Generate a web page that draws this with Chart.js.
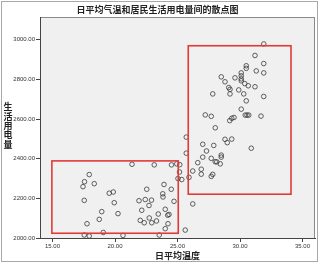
<!DOCTYPE html>
<html>
<head>
<meta charset="utf-8">
<script src="https://cdn.jsdelivr.net/npm/chart.js@4"></script>
<style>
  html, body { margin: 0; padding: 0; background: #fff; }
  #wrap { width: 320px; height: 265px; }
</style>
</head>
<body>
<div id="wrap"><canvas id="chart" width="320" height="265"></canvas></div>
<script>
// daily mean temperature (x) and residential electricity use (y)
const temps = [
  17.94, 17.56, 18.34, 17.44, 17.54, 17.76, 18.94, 18.74, 19.06, 17.54,
  17.94, 19.54, 19.86, 19.94, 20.24, 20.64, 21.36, 23.14, 24.52, 24.94,
  25.18, 25.16, 25.04, 25.34, 23.92, 22.54, 24.50, 23.82, 23.84, 21.92,
  22.42, 22.92, 24.72, 22.72, 22.14, 24.02, 23.46, 24.32, 24.22, 22.74,
  22.02, 22.34, 22.94, 23.32, 24.24, 24.02, 23.54, 25.62,
  31.90, 31.20, 31.90, 30.50, 30.50, 31.30, 31.90, 30.10, 30.10, 30.10,
  30.10, 28.50, 29.60, 28.80, 30.38, 30.66, 31.20, 29.10, 29.20, 29.20,
  29.90, 30.30, 27.82, 31.90, 30.50, 30.10, 27.22, 27.70, 30.42, 30.56,
  30.70, 31.68, 29.52, 29.34, 29.18, 28.02, 25.70, 28.80, 28.98, 29.34,
  27.02, 27.90, 30.90, 27.32, 25.70, 28.50, 28.50, 27.02, 27.70, 28.02,
  28.14, 28.42, 26.62, 26.22, 26.90, 26.90, 27.82, 27.70, 25.92, 26.22
];
const power = [
  2320, 2284, 2274, 2259, 2190, 2072, 2133, 2094, 2028, 2015,
  2010, 2226, 2232, 2178, 2123, 2013, 2372, 2369, 2369, 2374,
  2370, 2333, 2300, 2295, 2270, 2246, 2246, 2223, 2207, 2188,
  2194, 2191, 2185, 2164, 2140, 2145, 2121, 2119, 2115, 2101,
  2089, 2077, 2077, 2086, 2072, 2047, 2015, 2040,
  2979, 2921, 2880, 2869, 2856, 2843, 2833, 2833, 2818, 2803,
  2793, 2813, 2808, 2788, 2779, 2768, 2763, 2759, 2750, 2727,
  2747, 2727, 2727, 2714, 2692, 2650, 2621, 2614, 2620, 2620,
  2620, 2615, 2608, 2604, 2592, 2556, 2509, 2498, 2481, 2499,
  2473, 2467, 2453, 2439, 2428, 2418, 2408, 2408, 2402, 2385,
  2384, 2374, 2380, 2338, 2347, 2322, 2321, 2311, 2306, 2172
];

const xTicks = [15, 20, 25, 30, 35];
const yTicks = [2000, 2200, 2400, 2600, 2800, 3000];

// highlighted regions, in data units
const boxXFrom = [14.95, 25.86];
const boxXTo   = [25.06, 34.08];
const boxYFrom = [2024, 2221];
const boxYTo   = [2389, 2970];

const titleText = '日平均气温和居民生活用电量间的散点图';
const xTitle = '日平均温度';
const yTitle = '生活用电量';

const cjk = '"Noto Sans CJK SC", sans-serif';

const points = temps.map((t, i) => ({ x: t, y: power[i] }));

// frame, plot background, plot border
const framePlugin = {
  id: 'frame',
  beforeDraw(chart) {
    const ctx = chart.ctx;
    const a = chart.chartArea;
    ctx.save();
    ctx.strokeStyle = '#a8a8a8';
    ctx.lineWidth = 1;
    ctx.strokeRect(1.5, 1.5, 316, 260);
    ctx.fillStyle = '#f0f0f0';
    ctx.fillRect(a.left, a.top, a.right - a.left, a.bottom - a.top);
    ctx.strokeStyle = '#8a8a8a';
    ctx.strokeRect(a.left + 0.5, a.top + 0.5, a.right - a.left - 1, a.bottom - a.top);
    ctx.restore();
  },
  afterDraw(chart) {
    // vertical y title, one upright character per line
    const ctx = chart.ctx;
    const a = chart.chartArea;
    const chars = Array.from(yTitle);
    const step = 9.3;
    const mid = (a.top + a.bottom) / 2 - 2;
    ctx.save();
    ctx.font = 'bold 9px ' + cjk;
    ctx.fillStyle = '#222';
    ctx.textAlign = 'center';
    ctx.textBaseline = 'middle';
    chars.forEach((c, i) => {
      ctx.fillText(c, 8, mid + (i - (chars.length - 1) / 2) * step);
    });
    ctx.restore();
  }
};

const boxPlugin = {
  id: 'boxes',
  afterDatasetsDraw(chart) {
    const ctx = chart.ctx;
    const xs = chart.scales.x;
    const ys = chart.scales.y;
    ctx.save();
    ctx.strokeStyle = '#e23a3a';
    ctx.lineWidth = 1.6;
    for (let i = 0; i < boxXFrom.length; i++) {
      const x1 = xs.getPixelForValue(boxXFrom[i]);
      const x2 = xs.getPixelForValue(boxXTo[i]);
      const y1 = ys.getPixelForValue(boxYTo[i]);
      const y2 = ys.getPixelForValue(boxYFrom[i]);
      ctx.strokeRect(x1, y1, x2 - x1, y2 - y1);
    }
    ctx.restore();
  }
};

new Chart('chart', {
  type: 'scatter',
  data: {
    datasets: [{
      data: points,
      pointStyle: 'circle',
      pointRadius: 2.3,
      pointHoverRadius: 2.3,
      borderWidth: 0.8,
      borderColor: '#3a3a3a',
      backgroundColor: 'rgba(0,0,0,0)'
    }]
  },
  options: {
    responsive: false,
    animation: false,
    events: [],
    layout: { padding: { left: 0, right: 5, top: 0, bottom: 4 } },
    plugins: {
      legend: { display: false },
      tooltip: { enabled: false },
      title: {
        display: true,
        text: titleText,
        color: '#222',
        font: { family: cjk, size: 9, weight: 'bold', lineHeight: 1.2 },
        padding: { top: 4.5, bottom: 1.7 }
      }
    },
    scales: {
      x: {
        type: 'linear',
        min: 14,
        max: 36,
        afterBuildTicks: s => { s.ticks = xTicks.map(v => ({ value: v })); },
        afterFit: s => { s.height = 23; },
        grid: { drawOnChartArea: false, tickLength: 4, color: '#444', lineWidth: 1 },
        border: { color: '#444', width: 1 },
        ticks: {
          color: '#333',
          padding: 1,
          maxRotation: 0,
          font: { family: 'Liberation Sans', size: 6 },
          callback: v => v.toFixed(2)
        },
        title: {
          display: true,
          text: xTitle,
          color: '#222',
          padding: 0,
          font: { family: cjk, size: 9, weight: 'bold', lineHeight: 1.2 }
        }
      },
      y: {
        type: 'linear',
        min: 2000,
        max: 3115,
        afterBuildTicks: s => { s.ticks = yTicks.map(v => ({ value: v })); },
        afterFit: s => { s.width = 40; },
        grid: { drawOnChartArea: false, tickLength: 4, color: '#444', lineWidth: 1 },
        border: { color: '#444', width: 1 },
        ticks: {
          color: '#333',
          padding: 1,
          font: { family: 'Liberation Sans', size: 6 },
          callback: v => v.toFixed(2)
        },
        title: { display: false }
      }
    }
  },
  plugins: [framePlugin, boxPlugin]
});
</script>
</body>
</html>
